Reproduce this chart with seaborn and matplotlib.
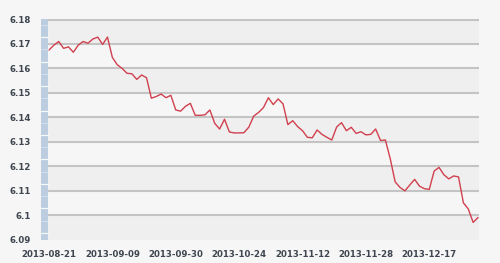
import matplotlib
matplotlib.use("Agg")
import matplotlib.pyplot as plt
import seaborn as sns
import numpy as np
import pandas as pd
from matplotlib.patches import Rectangle

values = [
    6.1675, 6.1695, 6.1710, 6.1682, 6.1688, 6.1666, 6.1695, 6.1710, 6.1703, 6.1720,
    6.1728, 6.1698, 6.1728, 6.1645, 6.1615, 6.1600, 6.1580, 6.1578, 6.1555, 6.1573,
    6.1562, 6.1478, 6.1485, 6.1495, 6.1480, 6.1490, 6.1430, 6.1425, 6.1445, 6.1457,
    6.1408, 6.1408, 6.1410, 6.1430, 6.1375, 6.1352, 6.1392, 6.1340, 6.1336, 6.1336,
    6.1337, 6.1360, 6.1405, 6.1420, 6.1440, 6.1480, 6.1452, 6.1475, 6.1455, 6.1370,
    6.1386, 6.1362, 6.1345, 6.1318, 6.1316, 6.1348, 6.1330, 6.1318, 6.1307, 6.1360,
    6.1378, 6.1345, 6.1359, 6.1334, 6.1341, 6.1328, 6.1330, 6.1352, 6.1305, 6.1307,
    6.1230, 6.1136, 6.1113, 6.1099, 6.1123, 6.1146, 6.1118, 6.1108, 6.1105, 6.1180,
    6.1195, 6.1165, 6.1148, 6.1160, 6.1156, 6.1050, 6.1025, 6.0970, 6.0990,
]
tick_labels = ["2013-08-21", "2013-09-09", "2013-09-30", "2013-10-24",
               "2013-11-12", "2013-11-28", "2013-12-17"]
label_step = 13
y_ticks = [6.09, 6.10, 6.11, 6.12, 6.13, 6.14, 6.15, 6.16, 6.17, 6.18]
y_tick_labels = ["6.09", "6.1", "6.11", "6.12", "6.13", "6.14", "6.15", "6.16", "6.17", "6.18"]

df = pd.DataFrame({"idx": np.arange(len(values)), "value": values})

sns.set_style("white")
plt.rcParams['font.family'] = ['DejaVu Sans']

W, H = 500, 263
fig = plt.figure(figsize=(W / 100, H / 100), dpi=100, facecolor="#f6f6f6")
left_px, right_px, top_px, bot_px = 48, 479, 19.5, 239.5
ax = fig.add_axes([left_px / W, 1 - bot_px / H, (right_px - left_px) / W, (bot_px - top_px) / H])
ax.set_facecolor("#f6f6f6")

# alternating bands
for i in range(len(y_ticks) - 1):
    col = "#efefef" if (i % 2 == 0) else "#f6f6f6"
    ax.axhspan(y_ticks[i], y_ticks[i + 1], color=col, zorder=0, lw=0)
for yv in y_ticks[1:]:
    ax.axhline(yv, color="#c4c4c4", lw=1.5, zorder=1)

sns.lineplot(data=df, x="idx", y="value", ax=ax, color="#d0404e", lw=1.0, zorder=3)

ax.set_xlim(-0.2, len(values) - 0.8)
ax.set_ylim(6.09, 6.18)
ax.set_xlabel("")
ax.set_ylabel("")
for s in ax.spines.values():
    s.set_visible(False)

ax.set_yticks(y_ticks)
ax.set_yticklabels(y_tick_labels)
ax.tick_params(axis="y", length=10.3, width=1, color="#c4c4c4", pad=2,
               labelsize=6.2, labelcolor="#3f4650")
for t in ax.get_yticklabels():
    t.set_fontweight("bold")

major = np.arange(0, len(values), label_step)[:len(tick_labels)]
ax.set_xticks(major)
ax.set_xticklabels(tick_labels)
ax.set_xticks(np.arange(len(values)), minor=True)
ax.tick_params(axis="x", which="both", length=4, width=1, color="#b3cde6",
               labelsize=6.2, labelcolor="#3f4650", pad=3.5)
for t in ax.get_xticklabels():
    t.set_fontweight("bold")

# left blue bar (3D-like axis)
bar_x0 = (41 - left_px) / (right_px - left_px)
bar_w = (47.5 - 41) / (right_px - left_px)
ax.add_patch(Rectangle((bar_x0, 0), bar_w, 1, transform=ax.transAxes,
                       facecolor="#bccde0", edgecolor="none", clip_on=False, zorder=4))
for k in range(18):
    yy = (k + 0.55) / 18
    ax.plot([bar_x0, bar_x0 + bar_w], [yy, yy], transform=ax.transAxes,
            color="white", lw=0.9 if k % 2 == 0 else 0.5, alpha=0.9 if k % 2 == 0 else 0.5,
            clip_on=False, zorder=5)

fig.savefig("out.png", dpi=100, facecolor=fig.get_facecolor())
